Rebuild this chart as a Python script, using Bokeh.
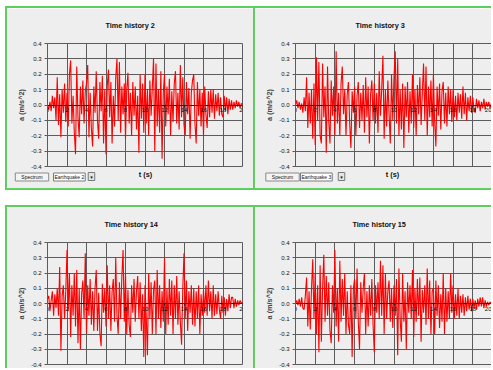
from bokeh.plotting import figure
from bokeh.layouts import row, column
from bokeh.models import FixedTicker, PrintfTickFormatter, Label, Range1d
from bokeh.embed import file_html
from bokeh.resources import INLINE

TITLES = ["Time history 2", "Time history 3", "Time history 14", "Time history 15"]
QUAKES = ["Earthquake 2", "Earthquake 3", "Earthquake 14", "Earthquake 15"]
X_TICKS = [0, 2, 4, 6, 8, 10, 12, 14, 16, 18, 20]
Y_TICKS = [-0.4, -0.3, -0.2, -0.1, 0.0, 0.1, 0.2, 0.3, 0.4]
DT = 0.125  # s between samples

acc_2 = [
    0.00, -0.03, 0.02, -0.04, 0.06, -0.02, 0.05, -0.10,
    0.18, -0.13, 0.07, -0.21, 0.10, -0.05, 0.14, -0.11,
    0.08, -0.14, 0.20, 0.29, -0.12, 0.06, -0.18, -0.32,
    0.25, -0.08, -0.21, 0.12, -0.06, 0.16, -0.12, 0.09,
    0.14, 0.26, -0.21, 0.08, -0.15, -0.27, 0.12, -0.05,
    0.22, -0.10, -0.22, 0.15, -0.04, 0.19, -0.25, 0.10,
    -0.32, 0.12, 0.23, -0.08, 0.15, -0.25, 0.06, -0.14,
    0.18, 0.30, -0.10, 0.28, -0.18, 0.12, -0.06, 0.14,
    -0.22, 0.10, 0.21, -0.12, 0.08, -0.20, 0.15, -0.07,
    0.12, -0.16, 0.06, -0.31, 0.20, -0.09, 0.14, -0.18,
    0.20, -0.12, 0.10, -0.20, 0.16, -0.07, 0.11, 0.30,
    -0.30, 0.27, -0.14, 0.10, -0.18, 0.22, -0.35, 0.08,
    0.20, -0.14, 0.12, -0.06, 0.17, -0.20, 0.09, -0.11,
    0.14, 0.22, -0.12, 0.08, -0.16, 0.26, -0.08, 0.18,
    -0.13, -0.20, 0.15, -0.06, 0.11, -0.22, 0.08, 0.16,
    0.20, -0.12, -0.25, 0.15, -0.07, 0.10, -0.14, 0.08,
    -0.20, 0.12, -0.06, -0.15, 0.09, -0.08, 0.10, -0.05,
    0.10, -0.09, 0.07, -0.04, 0.08, -0.07, 0.05, -0.06,
    -0.08, 0.06, -0.04, 0.05, -0.06, 0.04, -0.03, 0.03,
    -0.03, 0.02, -0.02, 0.03, -0.01, 0.02, -0.02, 0.01,
    0.00,
]

acc_3 = [
    0.00, 0.03, -0.02, 0.02, -0.03, 0.01, -0.05, 0.05,
    -0.04, 0.18, -0.15, 0.08, -0.12, 0.10, -0.22, 0.14,
    -0.26, 0.31, -0.10, 0.28, -0.20, -0.25, 0.27, -0.08,
    0.12, -0.31, 0.25, -0.10, -0.25, 0.16, -0.07, 0.12,
    -0.20, 0.35, -0.12, 0.08, -0.20, 0.14, 0.25, -0.06,
    0.10, -0.20, 0.07, 0.15, -0.12, -0.28, 0.09, -0.05,
    0.12, -0.20, 0.06, 0.15, -0.15, 0.08, -0.10, 0.13,
    -0.18, 0.18, -0.08, 0.12, -0.25, 0.07, 0.16, -0.10,
    0.14, -0.12, 0.08, -0.18, 0.22, -0.07, 0.10, 0.32,
    -0.22, 0.10, -0.14, 0.16, -0.06, -0.25, 0.20, -0.10,
    0.18, 0.35, -0.12, 0.30, -0.20, 0.10, -0.16, 0.14,
    -0.28, 0.12, -0.08, 0.15, -0.18, 0.09, -0.12, 0.20,
    -0.15, 0.10, -0.20, 0.13, -0.06, 0.18, -0.13, 0.08,
    0.27, -0.10, 0.25, -0.20, 0.12, -0.08, 0.16, -0.14,
    0.20, -0.10, -0.27, 0.12, -0.07, 0.14, -0.16, 0.09,
    0.15, -0.12, 0.08, -0.14, 0.12, -0.06, 0.10, -0.11,
    0.10, -0.08, 0.06, -0.10, 0.08, -0.05, 0.07, -0.09,
    0.12, -0.06, 0.08, -0.10, 0.05, -0.04, 0.06, -0.05,
    0.05, -0.03, -0.05, 0.04, -0.02, 0.03, -0.04, 0.02,
    -0.02, 0.04, -0.03, 0.02, -0.01, 0.02, -0.02, 0.01,
    0.00,
]

acc_14 = [
    0.03, 0.05, -0.05, 0.02, 0.08, -0.08, 0.06, -0.03,
    0.10, -0.08, 0.24, -0.31, 0.05, 0.12, -0.10, 0.08,
    0.35, -0.05, 0.20, -0.22, 0.12, -0.08, 0.20, -0.15,
    0.22, -0.26, 0.10, -0.30, 0.06, 0.15, -0.10, 0.33,
    -0.20, 0.12, -0.08, 0.16, -0.14, 0.08, -0.18, 0.10,
    0.22, -0.18, 0.07, -0.20, -0.28, 0.13, -0.06, 0.10,
    -0.15, 0.25, -0.10, 0.12, -0.18, 0.08, 0.16, -0.12,
    0.30, -0.08, -0.20, 0.14, -0.10, 0.18, 0.35, -0.12,
    0.20, -0.20, 0.09, -0.14, -0.22, 0.12, -0.06, 0.16,
    -0.12, 0.08, 0.18, -0.10, 0.14, -0.18, 0.06, -0.35,
    0.12, -0.08, -0.34, 0.20, -0.10, 0.14, -0.20, 0.09,
    0.15, -0.20, 0.22, -0.10, 0.12, -0.16, 0.08, -0.12,
    0.30, -0.20, 0.10, -0.14, 0.16, -0.08, 0.15, -0.20,
    0.12, -0.10, 0.18, -0.14, 0.08, -0.12, -0.27, 0.10,
    0.33, -0.10, 0.15, -0.18, 0.08, -0.06, 0.12, -0.14,
    0.10, -0.15, 0.08, -0.10, 0.12, -0.20, 0.06, -0.08,
    0.09, -0.06, 0.12, -0.08, 0.15, -0.05, 0.08, -0.10,
    0.12, -0.08, 0.06, -0.07, 0.08, -0.04, -0.10, 0.05,
    -0.06, 0.04, -0.08, 0.03, -0.05, 0.06, -0.03, 0.04,
    0.04, -0.03, 0.03, -0.02, 0.02, -0.01, 0.02, 0.00,
    0.01,
]

acc_15 = [
    0.00, 0.02, -0.01, 0.03, -0.02, 0.04, -0.03, -0.04,
    0.05, 0.17, -0.15, 0.08, -0.17, 0.10, 0.29, -0.10,
    0.20, -0.20, 0.12, -0.32, 0.25, -0.25, 0.10, 0.32,
    -0.12, 0.18, -0.08, 0.14, -0.18, -0.26, 0.12, -0.06,
    0.35, -0.15, 0.10, -0.25, 0.28, -0.12, 0.16, -0.08,
    0.20, -0.20, 0.08, -0.14, -0.20, 0.12, -0.35, 0.10,
    0.16, -0.10, 0.23, -0.12, -0.30, 0.14, -0.06, 0.10,
    0.20, -0.20, 0.08, -0.15, 0.12, -0.08, 0.16, -0.14,
    -0.32, 0.12, -0.06, 0.14, -0.10, 0.28, -0.08, 0.25,
    -0.20, 0.20, -0.10, 0.08, 0.15, -0.12, 0.10, -0.16,
    0.12, -0.08, 0.16, -0.34, 0.23, -0.10, -0.25, 0.20,
    -0.12, 0.08, -0.30, 0.14, -0.06, 0.12, -0.10, 0.22,
    -0.22, 0.10, -0.12, 0.16, -0.08, 0.17, -0.25, 0.09,
    -0.06, 0.12, -0.14, 0.23, -0.10, 0.15, -0.20, 0.08,
    0.10, -0.20, 0.15, -0.08, 0.12, -0.16, 0.06, -0.12,
    0.20, -0.20, 0.10, -0.12, 0.08, -0.10, 0.20, -0.06,
    0.12, -0.10, 0.06, -0.08, 0.10, -0.10, 0.05, -0.06,
    0.06, -0.08, 0.04, -0.05, 0.05, -0.04, 0.03, -0.05,
    0.03, -0.03, 0.02, -0.04, 0.03, -0.02, 0.04, -0.02,
    0.04, -0.03, 0.02, -0.02, 0.01, -0.01, 0.01, 0.00,
    0.00,
]

SERIES = [acc_2, acc_3, acc_14, acc_15]

BG = "#eeeeee"
GRID = "#5c5c5c"
RED = "#ff0000"
GREEN = "#5ccf5c"
FONT = "Liberation Sans"


def make_panel(title, quake, acc, cw, ch, ml, mr, mt, mb, sides, title_left, controls):
    css = {}
    for s in sides:
        css["border-" + s] = "2px solid " + GREEN
    p = figure(width=cw, height=ch, x_range=Range1d(0, 20), y_range=Range1d(-0.4, 0.4),
               output_backend="svg", toolbar_location=None,
               min_border_left=ml, min_border_right=mr, min_border_top=mt, min_border_bottom=mb,
               background_fill_color=BG, border_fill_color=BG,
               outline_line_color=GRID, outline_line_width=1, styles=css)
    t = [i * DT for i in range(len(acc))]
    p.line(t, acc, line_color=RED, line_width=1.1)

    p.title.text = title
    p.title.align = "left"
    p.title.offset = title_left
    p.title.vertical_align = "top"
    p.title.standoff = 24
    p.title.text_font = FONT
    p.title.text_font_size = "7.3px"
    p.title.text_font_style = "bold"
    p.title.text_color = "#111111"

    xa = p.xaxis[0]
    xa.ticker = FixedTicker(ticks=X_TICKS)
    xa.fixed_location = 0
    xa.axis_line_color = "#222222"
    xa.major_tick_line_color = "#222222"
    xa.major_tick_in = 0
    xa.major_tick_out = 2
    xa.minor_tick_line_color = None
    xa.major_label_standoff = 1
    xa.major_label_text_font = FONT
    xa.major_label_text_font_size = "6px"
    xa.major_label_text_color = "#111111"

    ya = p.yaxis[0]
    ya.ticker = FixedTicker(ticks=Y_TICKS)
    ya.formatter = PrintfTickFormatter(format="%.1f")
    ya.axis_line_color = GRID
    ya.major_tick_line_color = GRID
    ya.major_tick_in = 0
    ya.major_tick_out = 3
    ya.minor_tick_line_color = None
    ya.major_label_standoff = 3
    ya.major_label_text_font = FONT
    ya.major_label_text_font_size = "6px"
    ya.major_label_text_color = "#111111"
    ya.axis_label = "a (m/s^2)"
    ya.axis_label_text_font = FONT
    ya.axis_label_text_font_size = "7.3px"
    ya.axis_label_text_font_style = "bold"
    ya.axis_label_standoff = 2

    for g in (p.xgrid[0], p.ygrid[0]):
        g.grid_line_color = GRID
        g.grid_line_width = 1
    p.xgrid[0].ticker = FixedTicker(ticks=X_TICKS)
    p.ygrid[0].ticker = FixedTicker(ticks=Y_TICKS)

    if controls:
        xlab_x, spec_x, drop_x, arrow_x = controls
        # side-panel labels stack outward from the frame; y is measured from each one's own strip
        p.add_layout(Label(x=xlab_x, y=1.5, x_units="screen", y_units="screen", text="t (s)",
                           text_font=FONT, text_font_size="7.3px", text_font_style="bold",
                           text_align="center", text_baseline="middle", text_color="#111111"),
                     "below")
        p.add_layout(Label(x=spec_x, y=6.5, x_units="screen", y_units="screen", text="Spectrum",
                           text_font=FONT, text_font_size="5px", text_align="center",
                           text_baseline="middle", text_color="#111111", padding=(6, 1),
                           background_fill_color="#f4f4f4", border_line_color="#8a8a8a"),
                     "below")
        p.add_layout(Label(x=drop_x, y=14.5, x_units="screen", y_units="screen", text=quake,
                           text_font=FONT, text_font_size="5px", text_align="left",
                           text_baseline="middle", text_color="#111111", padding=(1, 1),
                           background_fill_color="#ffffff", border_line_color="#7a7a7a"),
                     "below")
        p.add_layout(Label(x=arrow_x, y=-10, x_units="screen", y_units="screen", text="\u25be",
                           text_font="DejaVu Sans", text_font_size="5px", text_align="center",
                           text_baseline="middle", text_color="#111111", padding=(2, 1),
                           background_fill_color="#e4e4e4", border_line_color="#7a7a7a"),
                     "left")
    return p


p1 = make_panel(TITLES[0], QUAKES[0], SERIES[0], 248, 184, 40, 13, 35, 26,
                ["left", "top", "bottom"], 58, (98, -15.5, 6, 84))
p2 = make_panel(TITLES[1], QUAKES[1], SERIES[1], 238, 184, 40, 1, 35, 26,
                ["left", "top", "bottom"], 60, (97, -13, 5, 86))
p3 = make_panel(TITLES[2], QUAKES[2], SERIES[2], 248, 163, 40, 13, 34, 6,
                ["left", "top"], 57, None)
p4 = make_panel(TITLES[3], QUAKES[3], SERIES[3], 238, 163, 40, 1, 35, 6,
                ["left", "top"], 57, None)

layout = column(row(p1, p2, spacing=0), row(p3, p4, spacing=0), spacing=15, margin=(6, 0, 0, 5))

open("out.html", "w").write(file_html(layout, INLINE))
